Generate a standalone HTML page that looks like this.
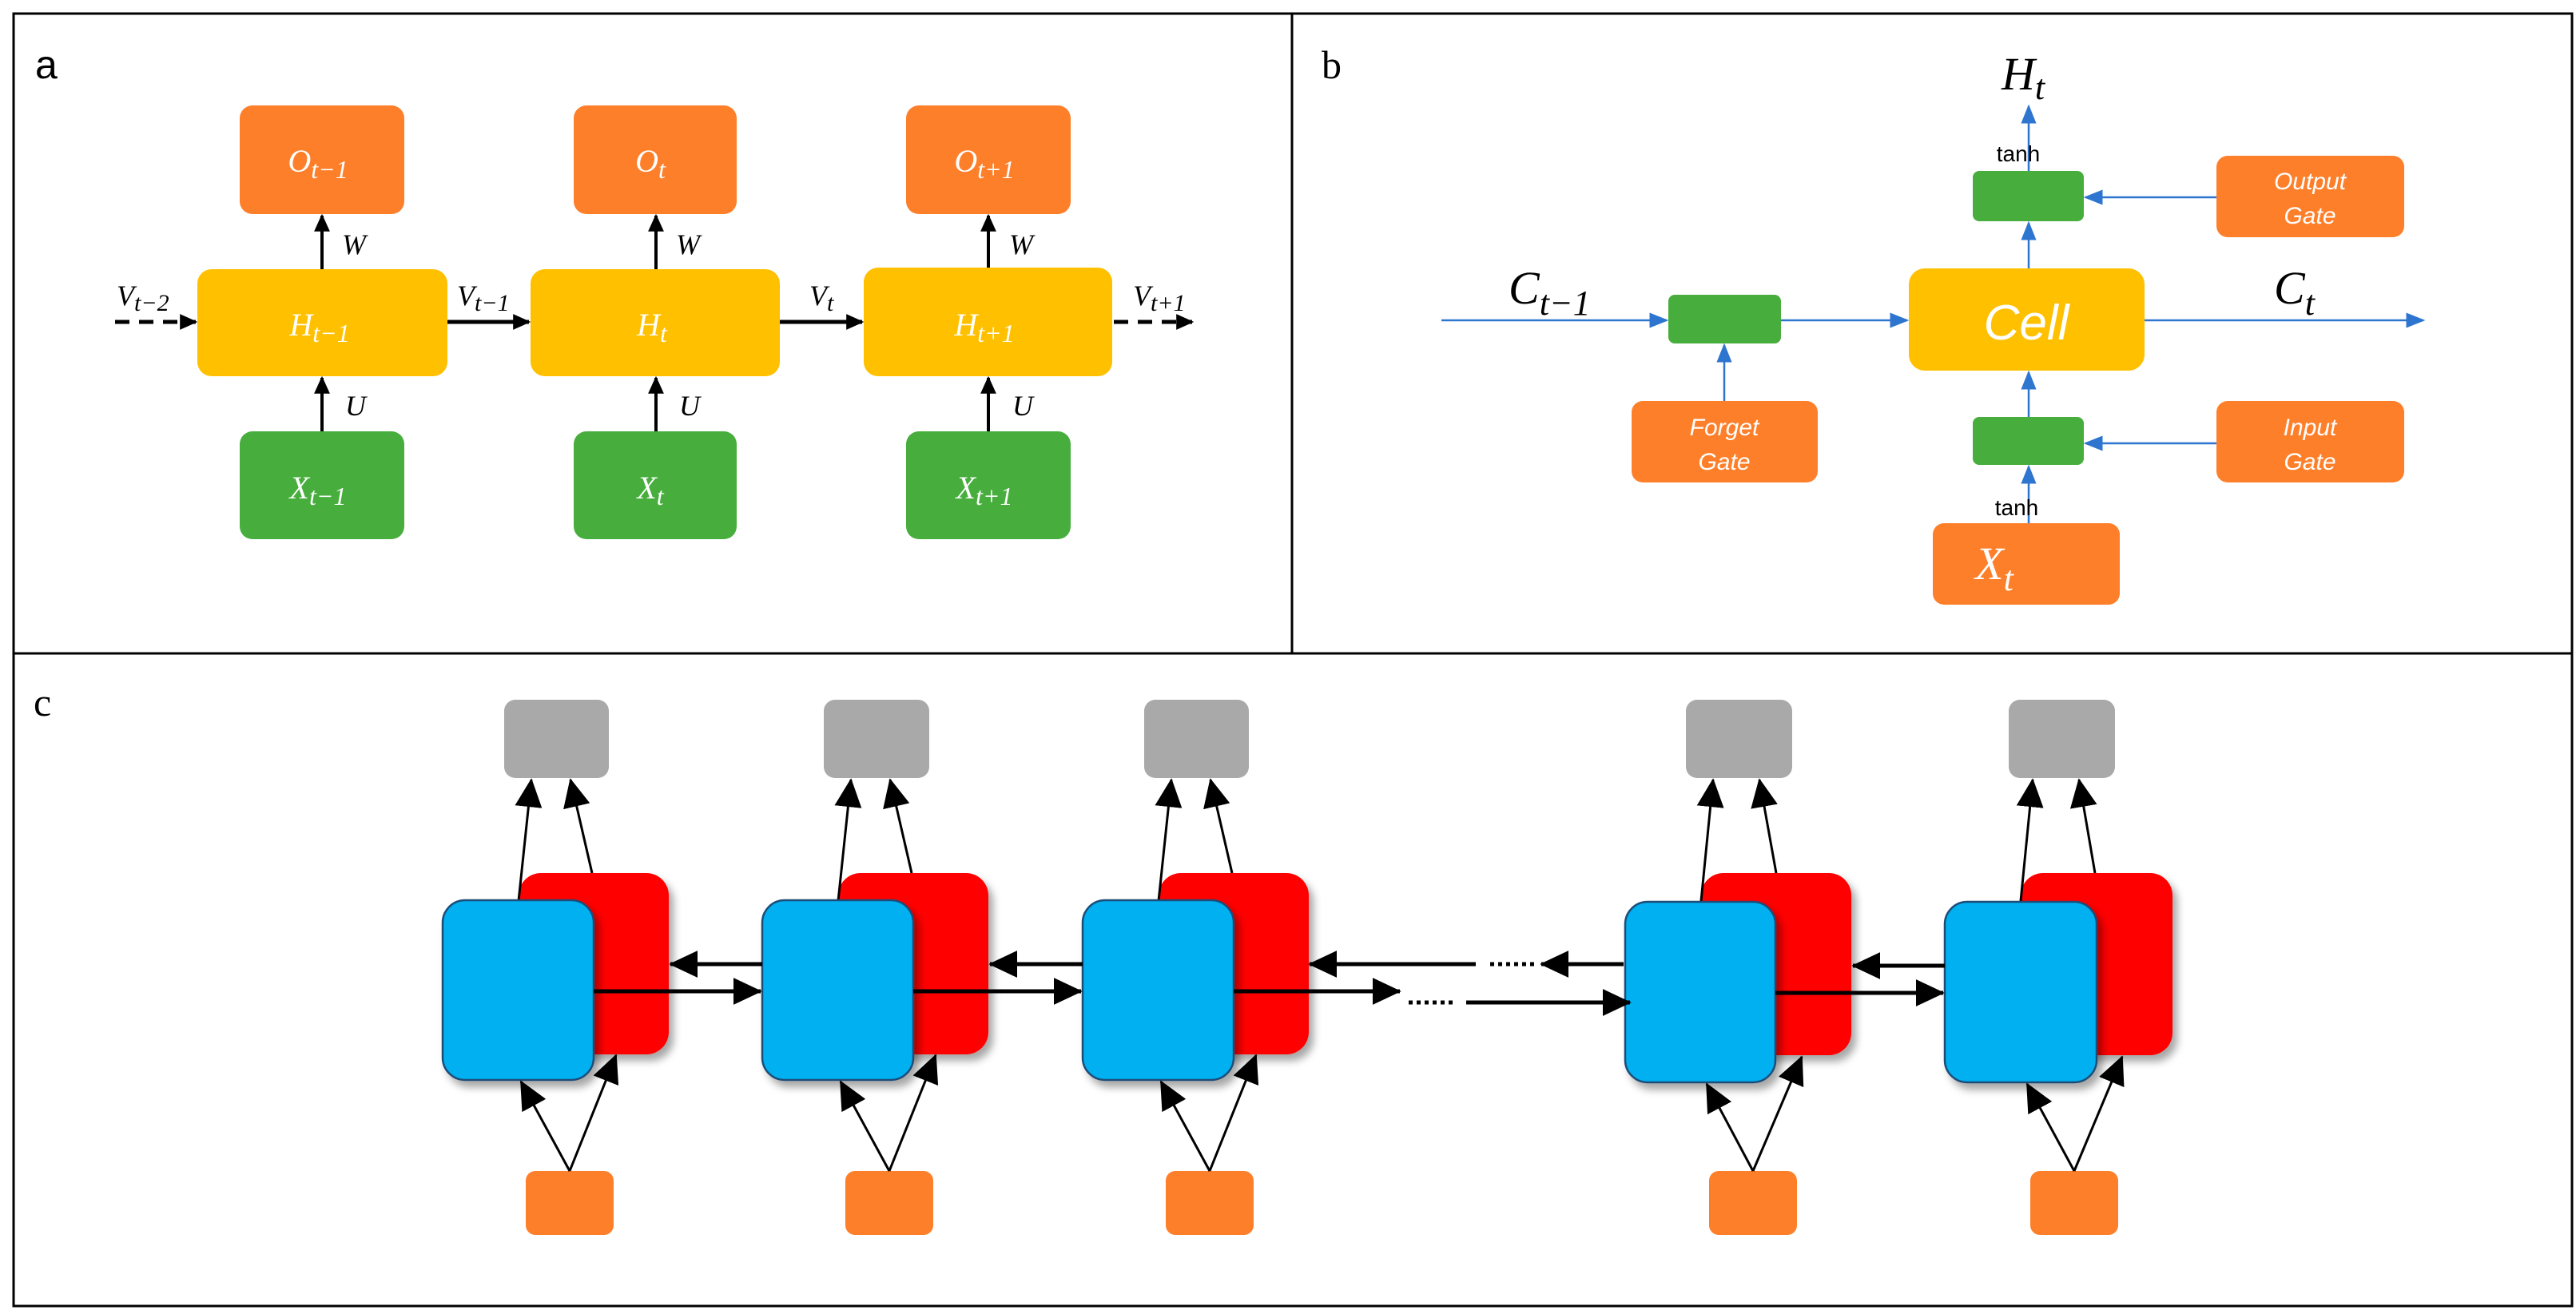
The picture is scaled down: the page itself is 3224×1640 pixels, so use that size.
<!DOCTYPE html>
<html><head><meta charset="utf-8"><style>
html,body{margin:0;padding:0;background:#fff}
svg{display:block}
.m{font-family:"Liberation Serif",serif;font-style:italic}
.s{font-family:"Liberation Sans",sans-serif}
</style></head><body>
<svg width="3224" height="1640" viewBox="0 0 3224 1640" xmlns="http://www.w3.org/2000/svg">
<defs>
<marker id="ak" viewBox="0 0 10 10" markerWidth="22" markerHeight="22" refX="9" refY="5" orient="auto" markerUnits="userSpaceOnUse"><path d="M0,0.5 L10,5 L0,9.5 z" fill="#000"/></marker>
<marker id="ab" viewBox="0 0 10 10" refX="9" refY="5" markerWidth="24" markerHeight="24" orient="auto" markerUnits="userSpaceOnUse"><path d="M0,1 L10,5 L0,9 z" fill="#2E75D0"/></marker>
<marker id="ac" viewBox="0 0 10 10" refX="9.5" refY="5" markerWidth="36" markerHeight="34" orient="auto" markerUnits="userSpaceOnUse" preserveAspectRatio="none"><path d="M0,0 L10,5 L0,10 z" fill="#000"/></marker>
<filter id="sh" x="-20%" y="-20%" width="150%" height="150%"><feDropShadow dx="6" dy="8" stdDeviation="5" flood-color="#000" flood-opacity="0.35"/></filter>
</defs>
<rect x="17" y="17" width="3202" height="1618" fill="none" stroke="#000" stroke-width="3"/>
<line x1="1617" y1="17" x2="1617" y2="818" stroke="#000" stroke-width="3"/>
<line x1="17" y1="818" x2="3219" y2="818" stroke="#000" stroke-width="3"/>
<text x="44" y="98" font-family="Liberation Sans,sans-serif" font-size="50">a</text>
<text x="1654" y="98" font-family="Liberation Serif,serif" font-size="50">b</text>
<text x="42" y="896" font-family="Liberation Serif,serif" font-size="50">c</text>

<!-- Panel a -->
<g fill="#FE7F2A">
<rect x="300" y="132" width="206" height="136" rx="16"/>
<rect x="718" y="132" width="204" height="136" rx="16"/>
<rect x="1134" y="132" width="206" height="136" rx="16"/>
</g>
<g fill="#FFC000">
<rect x="247" y="337" width="313" height="134" rx="18"/>
<rect x="664" y="337" width="312" height="134" rx="18"/>
<rect x="1081" y="335" width="311" height="136" rx="18"/>
</g>
<g fill="#47AE3D">
<rect x="300" y="540" width="206" height="135" rx="16"/>
<rect x="718" y="540" width="204" height="135" rx="16"/>
<rect x="1134" y="540" width="206" height="135" rx="16"/>
</g>
<g stroke="#000" stroke-width="4" fill="none">
<line x1="403" y1="337" x2="403" y2="270" marker-end="url(#ak)"/>
<line x1="821" y1="337" x2="821" y2="270" marker-end="url(#ak)"/>
<line x1="1237" y1="335" x2="1237" y2="270" marker-end="url(#ak)"/>
<line x1="403" y1="540" x2="403" y2="473" marker-end="url(#ak)"/>
<line x1="821" y1="540" x2="821" y2="473" marker-end="url(#ak)"/>
<line x1="1237" y1="540" x2="1237" y2="473" marker-end="url(#ak)"/>
<line x1="560" y1="403" x2="662" y2="403" stroke-width="5" marker-end="url(#ak)"/>
<line x1="976" y1="403" x2="1079" y2="403" stroke-width="5" marker-end="url(#ak)"/>
<line x1="144" y1="403" x2="245" y2="403" stroke-width="5" stroke-dasharray="18,12" marker-end="url(#ak)"/>
<line x1="1394" y1="403" x2="1492" y2="403" stroke-width="5" stroke-dasharray="18,12" marker-end="url(#ak)"/>
</g>
<g class="m" font-size="40" fill="#fff" text-anchor="middle">
<text x="398" y="215">O<tspan font-size="32" dy="8">t−1</tspan></text>
<text x="814" y="215">O<tspan font-size="32" dy="8">t</tspan></text>
<text x="1232" y="215">O<tspan font-size="32" dy="8">t+1</tspan></text>
<text x="400" y="420">H<tspan font-size="32" dy="8">t−1</tspan></text>
<text x="816" y="420">H<tspan font-size="32" dy="8">t</tspan></text>
<text x="1232" y="420">H<tspan font-size="32" dy="8">t+1</tspan></text>
<text x="398" y="624">X<tspan font-size="32" dy="8">t−1</tspan></text>
<text x="814" y="624">X<tspan font-size="32" dy="8">t</tspan></text>
<text x="1232" y="624">X<tspan font-size="32" dy="8">t+1</tspan></text>
</g>
<g class="m" font-size="36" fill="#000">
<text x="428" y="318">W</text><text x="846" y="318">W</text><text x="1263" y="318">W</text>
<text x="432" y="520">U</text><text x="850" y="520">U</text><text x="1267" y="520">U</text>
<text x="146" y="382">V<tspan font-size="30" dy="7">t−2</tspan></text>
<text x="572" y="382">V<tspan font-size="30" dy="7">t−1</tspan></text>
<text x="1013" y="382">V<tspan font-size="30" dy="7">t</tspan></text>
<text x="1418" y="382">V<tspan font-size="30" dy="7">t+1</tspan></text>
</g>

<!-- Panel b -->
<g stroke="#2E75D0" stroke-width="2.5" fill="none">
<line x1="1804" y1="401" x2="2086" y2="401" marker-end="url(#ab)"/>
<line x1="2229" y1="401" x2="2387" y2="401" marker-end="url(#ab)"/>
<line x1="2684" y1="401" x2="3033" y2="401" marker-end="url(#ab)"/>
<line x1="2158" y1="502" x2="2158" y2="432" marker-end="url(#ab)"/>
<line x1="2539" y1="336" x2="2539" y2="279" marker-end="url(#ab)"/>
<line x1="2539" y1="214" x2="2539" y2="133" marker-end="url(#ab)"/>
<line x1="2539" y1="522" x2="2539" y2="466" marker-end="url(#ab)"/>
<line x1="2539" y1="655" x2="2539" y2="584" marker-end="url(#ab)"/>
<line x1="2774" y1="247" x2="2610" y2="247" marker-end="url(#ab)"/>
<line x1="2774" y1="555" x2="2610" y2="555" marker-end="url(#ab)"/>
</g>
<rect x="2469" y="214" width="139" height="63" rx="8" fill="#47AE3D"/>
<rect x="2088" y="369" width="141" height="61" rx="8" fill="#47AE3D"/>
<rect x="2469" y="522" width="139" height="60" rx="8" fill="#47AE3D"/>
<rect x="2389" y="336" width="295" height="128" rx="20" fill="#FFC000"/>
<g fill="#FE7F2A">
<rect x="2774" y="195" width="235" height="102" rx="14"/>
<rect x="2042" y="502" width="233" height="102" rx="14"/>
<rect x="2774" y="502" width="235" height="102" rx="14"/>
<rect x="2419" y="655" width="234" height="102" rx="14"/>
</g>
<g class="s" font-style="italic" fill="#fff" text-anchor="middle" font-size="30">
<text x="2536" y="425" font-size="62">Cell</text>
<text x="2891" y="237">Output</text><text x="2891" y="280">Gate</text>
<text x="2158" y="545">Forget</text><text x="2158" y="588">Gate</text>
<text x="2891" y="545">Input</text><text x="2891" y="588">Gate</text>
</g>
<g class="s" font-size="28" fill="#000" text-anchor="middle">
<text x="2526" y="202">tanh</text>
<text x="2524" y="645">tanh</text>
</g>
<g class="m" font-size="58">
<text x="2505" y="112" fill="#000">H<tspan font-size="44" dy="12">t</tspan></text>
<text x="1888" y="380" fill="#000">C<tspan font-size="44" dy="14">t−1</tspan></text>
<text x="2846" y="380" fill="#000">C<tspan font-size="44" dy="14">t</tspan></text>
<text x="2496" y="725" fill="#fff" text-anchor="middle">X<tspan font-size="44" dy="14">t</tspan></text>
</g>

<!-- Panel c -->
<g fill="#A9A9A9">
<rect x="631" y="876" width="131" height="98" rx="14"/>
<rect x="1031" y="876" width="132" height="98" rx="14"/>
<rect x="1432" y="876" width="131" height="98" rx="14"/>
<rect x="2110" y="876" width="133" height="98" rx="14"/>
<rect x="2514" y="876" width="133" height="98" rx="14"/>
</g>
<g fill="#FE7F2A">
<rect x="658" y="1466" width="110" height="80" rx="12"/>
<rect x="1058" y="1466" width="110" height="80" rx="12"/>
<rect x="1459" y="1466" width="110" height="80" rx="12"/>
<rect x="2139" y="1466" width="110" height="80" rx="12"/>
<rect x="2541" y="1466" width="110" height="80" rx="12"/>
</g>
<g filter="url(#sh)">
<rect x="649" y="1093" width="188" height="227" rx="28" fill="#FF0000"/>
<rect x="1049" y="1093" width="188" height="227" rx="28" fill="#FF0000"/>
<rect x="1450" y="1093" width="188" height="227" rx="28" fill="#FF0000"/>
<rect x="2129" y="1093" width="188" height="228" rx="28" fill="#FF0000"/>
<rect x="2529" y="1093" width="190" height="228" rx="28" fill="#FF0000"/>
</g>
<g stroke="#000" stroke-width="3" fill="none" marker-end="url(#ac)">
<line x1="649" y1="1128" x2="665" y2="976"/><line x1="741" y1="1093" x2="714" y2="976"/>
<line x1="1049" y1="1128" x2="1065" y2="976"/><line x1="1141" y1="1093" x2="1114" y2="976"/>
<line x1="1450" y1="1128" x2="1466" y2="976"/><line x1="1542" y1="1093" x2="1515" y2="976"/>
<line x1="2129" y1="1128" x2="2144" y2="976"/><line x1="2223" y1="1093" x2="2202" y2="976"/>
<line x1="2529" y1="1128" x2="2544" y2="976"/><line x1="2622" y1="1093" x2="2602" y2="976"/>
</g>
<g filter="url(#sh)" stroke="#1F4E79" stroke-width="2.5" fill="#00B0F0">
<rect x="554" y="1127" width="189" height="225" rx="28"/>
<rect x="954" y="1127" width="189" height="225" rx="28"/>
<rect x="1355" y="1127" width="189" height="225" rx="28"/>
<rect x="2034" y="1129" width="188" height="226" rx="28"/>
<rect x="2434" y="1129" width="190" height="226" rx="28"/>
</g>
<g stroke="#000" stroke-width="3" fill="none" marker-end="url(#ac)">
<line x1="713" y1="1466" x2="652" y2="1354"/><line x1="713" y1="1466" x2="771" y2="1321"/>
<line x1="1113" y1="1466" x2="1052" y2="1354"/><line x1="1113" y1="1466" x2="1171" y2="1321"/>
<line x1="1514" y1="1466" x2="1453" y2="1354"/><line x1="1514" y1="1466" x2="1572" y2="1321"/>
<line x1="2194" y1="1466" x2="2136" y2="1357"/><line x1="2194" y1="1466" x2="2255" y2="1323"/>
<line x1="2596" y1="1466" x2="2537" y2="1357"/><line x1="2596" y1="1466" x2="2656" y2="1323"/>
</g>
<g stroke="#000" stroke-width="5" fill="none">
<line x1="743" y1="1241" x2="952" y2="1241" marker-end="url(#ac)"/>
<line x1="1143" y1="1241" x2="1353" y2="1241" marker-end="url(#ac)"/>
<line x1="1544" y1="1241" x2="1752" y2="1241" marker-end="url(#ac)"/>
<line x1="954" y1="1207" x2="839" y2="1207" marker-end="url(#ac)"/>
<line x1="1355" y1="1207" x2="1239" y2="1207" marker-end="url(#ac)"/>
<line x1="1847" y1="1207" x2="1639" y2="1207" marker-end="url(#ac)"/>
<line x1="2032" y1="1207" x2="1929" y2="1207" marker-end="url(#ac)"/>
<line x1="1835" y1="1255" x2="2040" y2="1255" marker-end="url(#ac)"/>
<line x1="1763" y1="1255" x2="1822" y2="1255" stroke-dasharray="5,5"/>
<line x1="1865" y1="1207" x2="1924" y2="1207" stroke-dasharray="5,5"/>
<line x1="2222" y1="1243" x2="2432" y2="1243" marker-end="url(#ac)"/>
<line x1="2434" y1="1209" x2="2319" y2="1209" marker-end="url(#ac)"/>
</g>
</svg>
</body></html>
